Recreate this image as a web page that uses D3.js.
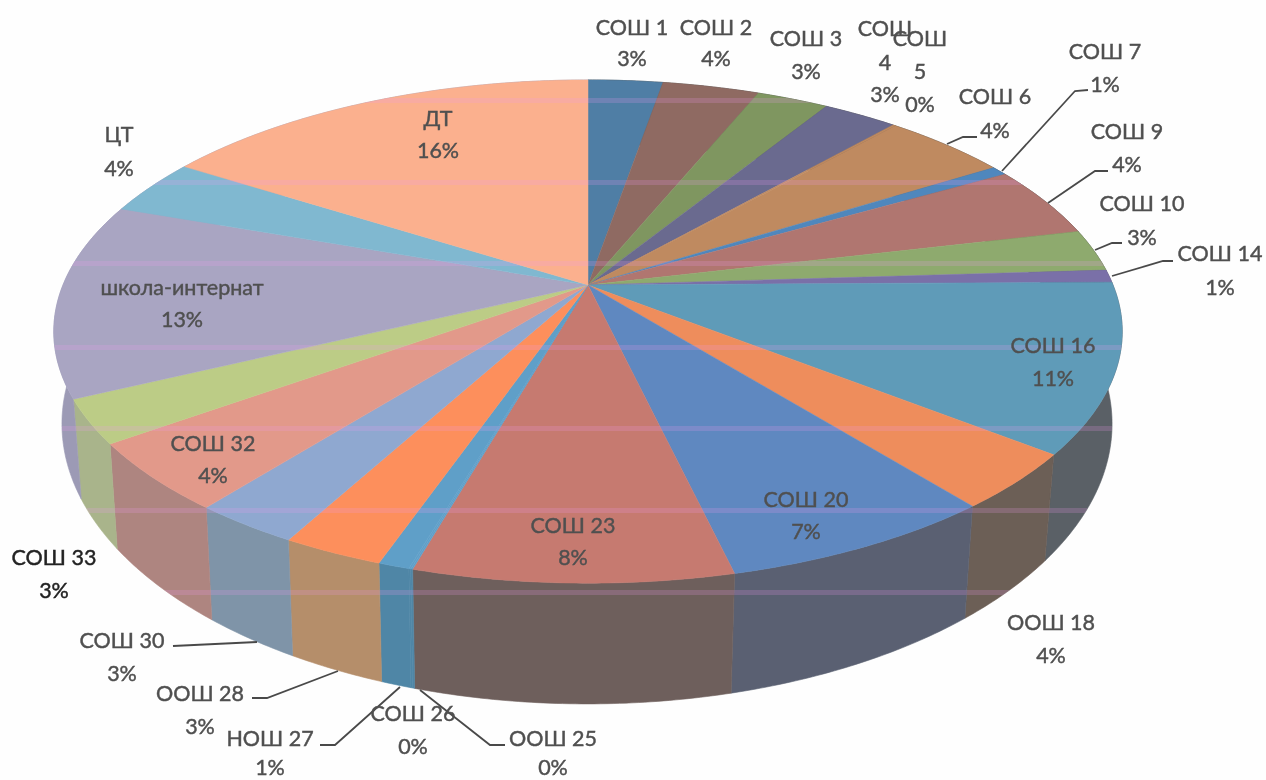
<!DOCTYPE html>
<html>
<head>
<meta charset="utf-8">
<script src="https://cdnjs.cloudflare.com/ajax/libs/d3/7.8.5/d3.min.js"></script>
<style>
    html, body { margin: 0; padding: 0; background: #fefefe; }
    text { font-family: "Lato", "Open Sans", sans-serif; font-size: 21.5px; text-anchor: middle; stroke-width: 0.45px; }
</style>
</head>
<body>
<div id="chart"></div>
<script>

// chart data (shares in percent)
const schools = ["СОШ 1", "СОШ 2", "СОШ 3", "СОШ 4", "СОШ 5", "СОШ 6", "СОШ 7", "СОШ 9", "СОШ 10", "СОШ 14",
    "СОШ 16", "ООШ 18", "СОШ 20", "СОШ 23", "ООШ 25", "СОШ 26", "НОШ 27", "ООШ 28", "СОШ 30", "СОШ 32",
    "СОШ 33", "школа-интернат", "ЦТ", "ДТ"];
const shares = [2.7, 3.5, 2.6, 2.7, 0.1, 4.5, 0.6, 4.6, 2.7, 0.8,
    10.8, 3.6, 7.1, 8.1, 0.05, 0.05, 0.8, 2.6, 2.75, 4.4,
    2.8, 12.5, 3.6, 16.0];
const shareLabels = ["3%", "4%", "3%", "3%", "0%", "4%", "1%", "4%", "3%", "1%",
    "11%", "4%", "7%", "8%", "0%", "0%", "1%", "3%", "3%", "4%",
    "3%", "13%", "4%", "16%"];

// slice colours, top face and side wall
const topColors = ["#4f7ea5", "#8f6b62", "#7f9660", "#6a6a8f", "#bf8a60", "#bf8a60", "#4f87bd", "#b07670", "#8eaa6e", "#7a70a8",
    "#5e9bb8", "#ee8d5c", "#5f88c0", "#c67a70", "#5f9fc8", "#5f9fc8", "#5f9fc8", "#fd8f5c", "#8fa8d0", "#e2998a",
    "#bccc86", "#a9a5c2", "#80b8d0", "#fbb08e"];
const sideColors = ["#444", "#444", "#444", "#444", "#444", "#444", "#444", "#444", "#444", "#5a6066",
    "#5a6066", "#6c5e56", "#5a6172", "#6e5f5c", "#4f86a6", "#4f86a6", "#4f86a6", "#b58e6b", "#7f94a8", "#ae8580",
    "#a9b48b", "#9c9ab5", "#9c9ab5", "#9c9ab5"];

// label placement: centre x, y of each text line, text colour
const labelLayout = [
    { x: 632, y: [35, 66] }, { x: 716, y: [35, 66] }, { x: 806, y: [46, 79] },
    { x: 885, y: [36, 70, 102], wrap: true }, { x: 920, y: [46, 79, 112], wrap: true },
    { x: 995, y: [104, 138] }, { x: 1105, y: [59, 92] }, { x: 1127, y: [139, 172] },
    { x: 1142, y: [211, 245] }, { x: 1220, y: [261, 295] }, { x: 1053, y: [353, 386] },
    { x: 1051, y: [630, 663] }, { x: 806, y: [507, 539] }, { x: 573, y: [533, 565] },
    { x: 553, y: [746, 775] }, { x: 413, y: [721, 754] }, { x: 270, y: [746, 775] },
    { x: 200, y: [701, 734] }, { x: 122, y: [648, 681] }, { x: 213, y: [451, 483] },
    { x: 54, y: [565, 598], color: "#222" }, { x: 182, y: [295, 327] },
    { x: 119, y: [142, 176] }, { x: 438, y: [126, 158] }
];

// leader lines
const leaders = [
    [[947, 144], [963, 137], [977, 137]],
    [[1002, 171], [1075, 91], [1088, 90]],
    [[1048, 203], [1095, 171], [1108, 171]],
    [[1095, 250], [1112, 243], [1122, 243]],
    [[1112, 276], [1163, 261], [1173, 261]],
    [[173, 646], [257, 642]],
    [[252, 698], [267, 698], [338, 671]],
    [[320, 745], [335, 745], [400, 687]],
    [[420, 690], [490, 745], [505, 745]]
];

// scanner stripes across the printed pie
const stripes = [100, 182, 263, 347, 428, 510, 592];

let width = 1266, height = 780;

let svg = d3.select("#chart").append("svg")
    .attr("width", width)
    .attr("height", height)
    .style("display", "block");

// a little softness, the original is a scan
let defs = svg.append("defs");
defs.append("filter").attr("id", "soft")
    .append("feGaussianBlur").attr("stdDeviation", 0.6);
defs.append("filter").attr("id", "soft-text")
    .append("feGaussianBlur").attr("stdDeviation", 0.35);

// perspective of a flat disc, one for the top face and one for the bottom rim
let perspective = 0.185;
let topFace = { cx: 588, cy: 285, a: 525, b: 243 };
let bottomFace = { cx: 587, cy: 372, a: 516, b: 270.5 };

function project(face, angle) {
    let u = Math.sin(angle), v = Math.cos(angle);
    let w = 1 + perspective * v;
    return [face.cx + face.a * u / w, face.cy - face.b * v / w];
}

function rim(face, d) {
    let steps = Math.max(2, Math.ceil((d.endAngle - d.startAngle) / 0.01));
    return d3.range(steps + 1).map(i => project(face, d.startAngle + (d.endAngle - d.startAngle) * i / steps));
}

let pie = d3.pie().sort(null).value(d => d);
let slices = pie(shares);
let line = d3.line();

let pieGroup = svg.append("g").attr("filter", "url(#soft)");

// walls first, the top face covers what is hidden
let walls = slices.map(d => rim(topFace, d).concat(rim(bottomFace, d).reverse()));
pieGroup.selectAll(".wall").data(walls)
    .enter()
    .append("path")
    .attr("class", "wall")
    .attr("d", d => line(d) + "Z")
    .style("fill", (d, i) => sideColors[i])
    .style("stroke", (d, i) => sideColors[i])
    .style("stroke-width", 0.6);

let faces = slices.map(d => [[topFace.cx, topFace.cy]].concat(rim(topFace, d)));
pieGroup.selectAll(".face").data(faces)
    .enter()
    .append("path")
    .attr("class", "face")
    .attr("d", d => line(d) + "Z")
    .style("fill", (d, i) => topColors[i])
    .style("stroke", (d, i) => topColors[i])
    .style("stroke-width", 0.5);

// stripes only show on the pie
let clip = svg.append("clipPath").attr("id", "pie-clip");
clip.selectAll("path").data(walls.concat(faces))
    .enter()
    .append("path")
    .attr("d", d => line(d) + "Z");

svg.append("g")
    .attr("clip-path", "url(#pie-clip)")
    .append("g")
    .attr("filter", "url(#soft)")
    .selectAll("rect").data(stripes)
    .enter()
    .append("rect")
    .attr("x", 0)
    .attr("y", d => d - 2)
    .attr("width", width)
    .attr("height", 5)
    .style("fill", "#ee9cf0")
    .style("opacity", 0.2);

// leader lines
svg.append("g").attr("filter", "url(#soft-text)")
    .selectAll("path").data(leaders)
    .enter()
    .append("path")
    .attr("d", d => line(d))
    .style("fill", "none")
    .style("stroke", "#4a4a4a")
    .style("stroke-width", 1.8);

// labels
let labels = svg.append("g").attr("filter", "url(#soft-text)")
    .selectAll("text").data(labelLayout)
    .enter()
    .append("text")
    .style("fill", d => d.color || "#505050")
    .style("stroke", d => d.color || "#505050");

labels.selectAll("tspan")
    .data((d, i) => {
        let name = schools[i];
        let rows = d.wrap ? name.split(" ") : [name];
        return rows.concat(shareLabels[i]).map((t, k) => ({ t: t, x: d.x, y: d.y[k] }));
    })
    .enter()
    .append("tspan")
    .attr("x", d => d.x)
    .attr("y", d => d.y)
    .text(d => d.t);

</script>
</body>
</html>
